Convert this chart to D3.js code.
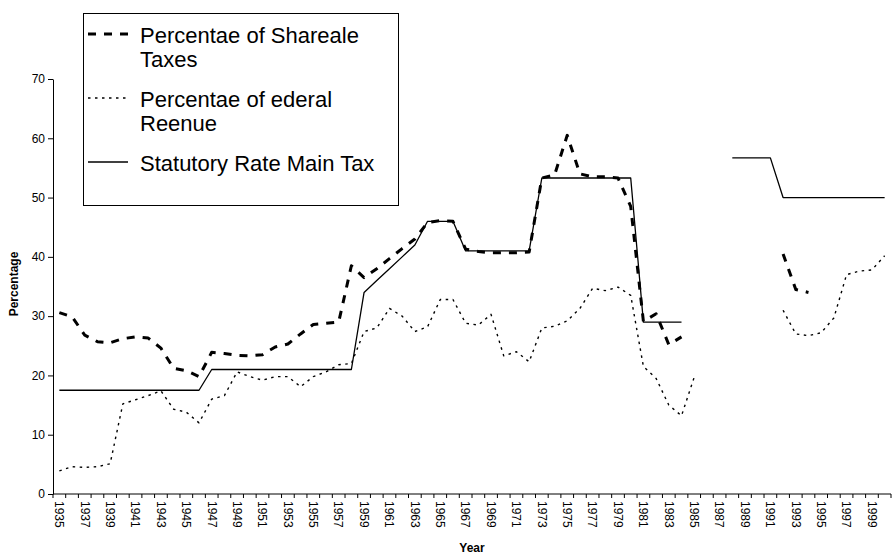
<!DOCTYPE html>
<meta charset="utf-8">
<title>shareable taxes</title>
<style>
	body { margin: 0; background: #fff; }
	svg { display: block; font-family: "Liberation Sans", Arial, sans-serif; }
</style>
<svg id="chart"></svg>
<script src="https://d3js.org/d3.v7.min.js"></script>
<script>
// categories
var years = d3.range(1935, 2001)
var yTicks = [0, 10, 20, 30, 40, 50, 60, 70]

// Percentage of Shareable Taxes (1935..2000)
var shareable = [
	30.6, 29.9, 26.8, 25.7, 25.5, 26.2, 26.5, 26.3, 24.6, 21.2,
	20.8, 19.8, 23.9, 23.7, 23.4, 23.3, 23.5, 24.8, 25.3, 27.0,
	28.6, 28.8, 29.0, 38.5, 36.5, 38.0, 39.7, 41.4, 43.0, 45.8,
	46.1, 46.0, 41.3, 40.9, 40.7, 40.7, 40.7, 40.8, 53.3, 53.8,
	60.5, 54.0, 53.5, 53.5, 53.3, 48.5, 29.1, 30.4, 25.2, 26.5,
	null, null, null, null, null, null, null, 40.5, 34.5, 34.0,
	null, null, null, null, null, null
]

// Percentage of Federal Revenue
var federal = [
	3.9, 4.6, 4.5, 4.6, 5.1, 15.2, 15.9, 16.6, 17.4, 14.3,
	13.8, 12.0, 16.0, 16.6, 20.6, 19.8, 19.2, 19.8, 19.8, 18.1,
	19.8, 20.6, 21.8, 22.0, 27.4, 28.0, 31.3, 30.0, 27.4, 28.2,
	32.8, 32.8, 28.8, 28.5, 30.3, 23.3, 24.0, 22.3, 28.0, 28.3,
	29.2, 31.3, 34.7, 34.3, 34.9, 33.5, 21.5, 19.5, 15.0, 13.2,
	19.7, null, null, null, null, null, null, 31.0, 27.0, 26.7,
	27.2, 29.7, 37.0, 37.6, 37.8, 40.2
]

// Statutory Rate Main Tax
var statutory = [
	17.5, 17.5, 17.5, 17.5, 17.5, 17.5, 17.5, 17.5, 17.5, 17.5,
	17.5, 17.5, 21.0, 21.0, 21.0, 21.0, 21.0, 21.0, 21.0, 21.0,
	21.0, 21.0, 21.0, 21.0, 34.0, 36.0, 38.0, 40.0, 42.0, 46.0,
	46.0, 46.0, 41.0, 41.0, 41.0, 41.0, 41.0, 41.0, 53.3, 53.3,
	53.3, 53.3, 53.3, 53.3, 53.3, 53.3, 29.0, 29.0, 29.0, 29.0,
	null, null, null, 56.7, 56.7, 56.7, 56.7, 50.0, 50.0, 50.0,
	50.0, 50.0, 50.0, 50.0, 50.0, 50.0
]

var series = [
	{name: ["Percentae of Shareale", "Taxes"], values: shareable, width: 3, dash: "8,8", color: "#000"},
	{name: ["Percentae of ederal", "Reenue"], values: federal, width: 1.4, dash: "2.5,4.5", color: "#000"},
	{name: ["Statutory Rate Main Tax"], values: statutory, width: 1.3, dash: null, color: "#000"}
]

var width = 892
var height = 555
var plotLeft = 53, plotRight = 891, plotTop = 79, plotBottom = 494

var svg = d3.select('#chart')
.attr('width', width)
.attr('height', height)

var x = d3.scaleBand()
.domain(years)
.range([plotLeft, plotRight])
.padding(0)

var y = d3.scaleLinear()
.domain([0, 70])
.range([plotBottom, plotTop])

// x axis, ticks between categories, labels every second year
var xAxis = d3.axisBottom(x)
.tickValues(years.filter(function(d, i) {return i % 2 === 0}))
.tickSize(0)
.tickPadding(0)

var gx = svg.append('g')
.attr('transform', 'translate(0,' + plotBottom + ')')
.call(xAxis)
gx.select('.domain').remove()
gx.selectAll('text')
.attr('font-size', 12)
.attr('font-family', '"Liberation Sans", Arial, sans-serif')
.attr('fill', '#000')
.attr('text-anchor', 'start')
.attr('transform', 'translate(0,7) rotate(90)')
.attr('x', 0)
.attr('y', 0)
.attr('dy', '0.35em')

svg.append('line')
.attr('x1', plotLeft).attr('x2', plotRight)
.attr('y1', plotBottom).attr('y2', plotBottom)
.attr('stroke', '#000')

svg.append('g').selectAll('line')
.data(years.concat([null]))
.enter().append('line')
.attr('x1', function(d, i) {return plotLeft + i * x.bandwidth()})
.attr('x2', function(d, i) {return plotLeft + i * x.bandwidth()})
.attr('y1', plotBottom)
.attr('y2', plotBottom + 4)
.attr('stroke', '#000')

// y axis
var yAxis = d3.axisLeft(y)
.tickValues(yTicks)
.tickSize(5)
.tickPadding(3)
.tickSizeOuter(0)

var gy = svg.append('g')
.attr('transform', 'translate(' + plotLeft + ',0)')
.call(yAxis)
gy.selectAll('text')
.attr('font-size', 12)
.attr('font-family', '"Liberation Sans", Arial, sans-serif')
.attr('fill', '#000')
gy.selectAll('line, path').attr('stroke', '#000')

// axis titles
svg.append('text')
.attr('x', 472)
.attr('y', 552)
.attr('text-anchor', 'middle')
.attr('font-size', 12)
.attr('font-weight', 'bold')
.text('Year')

svg.append('text')
.attr('transform', 'translate(18,284) rotate(-90)')
.attr('text-anchor', 'middle')
.attr('font-size', 12)
.attr('font-weight', 'bold')
.text('Percentage')

// lines
var line = d3.line()
.defined(function(d) {return d.v != null})
.x(function(d) {return x(d.year) + x.bandwidth() / 2})
.y(function(d) {return y(d.v)})

series.forEach(function(s) {
	var pts = years.map(function(yr, i) {return {year: yr, v: s.values[i]}})
	svg.append('path')
	.datum(pts)
	.attr('d', line)
	.attr('fill', 'none')
	.attr('stroke', s.color)
	.attr('stroke-width', s.width)
	.attr('stroke-dasharray', s.dash)
	.attr('stroke-linejoin', 'round')
})

// legend
var legend = svg.append('g')
legend.append('rect')
.attr('x', 83.5).attr('y', 13.5)
.attr('width', 315).attr('height', 192)
.attr('fill', '#fff')
.attr('stroke', '#000')

var rowY = [34, 98, 162]
series.forEach(function(s, i) {
	legend.append('line')
	.attr('x1', 88).attr('x2', 128)
	.attr('y1', rowY[i]).attr('y2', rowY[i])
	.attr('stroke', s.color)
	.attr('stroke-width', s.width)
	.attr('stroke-dasharray', s.dash)
	s.name.forEach(function(t, j) {
		legend.append('text')
		.attr('x', 140)
		.attr('y', rowY[i] + 8.5 + j * 24)
		.attr('font-size', 22)
		.text(t)
	})
})
</script>
